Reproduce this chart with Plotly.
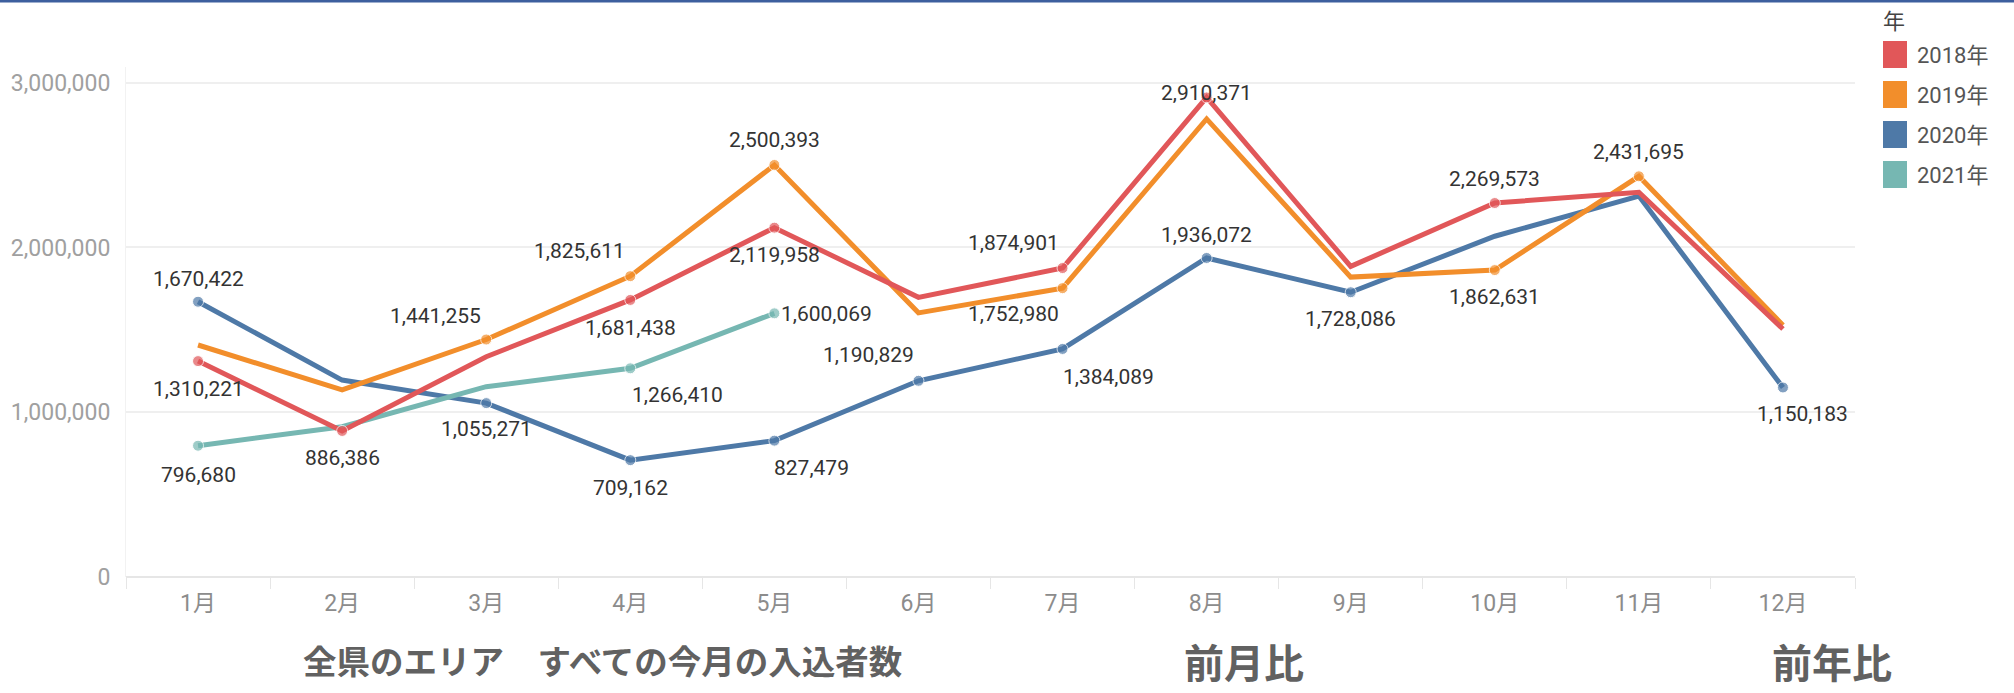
import plotly.graph_objects as go

# ---- data ----
months = ["1月", "2月", "3月", "4月", "5月", "6月", "7月", "8月", "9月", "10月", "11月", "12月"]
years = ["2018年", "2019年", "2020年", "2021年"]
v2018 = [1310221, 886386, 1337000, 1681438, 2119958, 1697000, 1874901, 2910371, 1885000, 2269573, 2335000, 1505000]
v2019 = [1408000, 1135000, 1441255, 1825611, 2500393, 1603000, 1752980, 2780000, 1820000, 1862631, 2431695, 1528000]
v2020 = [1670422, 1195000, 1055271, 709162, 827479, 1190829, 1384089, 1936072, 1728086, 2068000, 2312000, 1150183]
v2021 = [796680, 912000, 1155000, 1266410, 1600069]
series = [v2018, v2019, v2020, v2021]
colors = ["#e15759", "#f28e2b", "#4e79a7", "#76b7b2"]
y_ticks = [0, 1000000, 2000000, 3000000]

# labelled points: (series index, month index, horizontal anchor, vertical offset px (+ = below), x shift px)
labels = [
    (2, 0, "center", -23, 0), (0, 0, "center", 28, 0), (3, 0, "center", 29, 0),
    (0, 1, "center", 27, 0),
    (1, 2, "right", -24, -3), (2, 2, "center", 26, 0),
    (1, 3, "right", -25, -3), (0, 3, "center", 28, 0), (3, 3, "left", 27, 0), (2, 3, "center", 28, 0),
    (1, 4, "center", -25, 0), (0, 4, "center", 27, 0), (3, 4, "left", 1, 5), (2, 4, "left", 27, -2),
    (2, 5, "right", -26, -2),
    (0, 6, "right", -25, -2), (1, 6, "right", 26, -2), (2, 6, "left", 28, -2),
    (0, 7, "center", -4, 0), (2, 7, "center", -23, 0),
    (2, 8, "center", 27, 0),
    (0, 9, "center", -24, 0), (1, 9, "center", 27, 0),
    (1, 10, "center", -24, 0),
    (2, 11, "center", 27, 20),
]

W, H = 2014, 693
L, R, T, B = 126, 159, 67, 116
PW, PH = W - L - R, H - T - B


def px(x):
    return (x - L) / PW


def py(y):
    return (H - B - y) / PH


NUM_FONT = "Roboto, 'Noto Sans CJK JP', sans-serif"
CJK_FONT = "'Noto Sans CJK JP', sans-serif"

fig = go.Figure()

draw_order = [2, 3, 1, 0]
for si in draw_order:
    vals = series[si]
    sizes = [0] * len(vals)
    for s, m, *_ in labels:
        if s == si:
            sizes[m] = 11
    fig.add_trace(go.Scatter(
        x=months[:len(vals)], y=vals, name=years[si], mode="lines+markers",
        line=dict(color=colors[si], width=5),
        marker=dict(color=colors[si], size=sizes),
        showlegend=False, hoverinfo="skip",
    ))

annotations = []
for s, m, anchor, dy, dx in labels:
    v = series[s][m]
    annotations.append(dict(
        x=months[m], y=v, xref="x", yref="y", text=f"{v:,}", showarrow=False,
        xanchor=anchor, yanchor="middle", yshift=-dy, xshift=dx,
        font=dict(family=NUM_FONT, size=21, color="#333333"),
    ))

# legend (drawn manually to match the tall colour swatches)
shapes = []
annotations.append(dict(x=px(1881), y=py(19), xref="paper", yref="paper", text="年",
                        showarrow=False, xanchor="left", yanchor="middle",
                        font=dict(family=CJK_FONT, size=22, color="#444444")))
for i, name in enumerate(years):
    top = 41 + 40 * i
    shapes.append(dict(type="rect", xref="paper", yref="paper",
                       x0=px(1883), x1=px(1907), y0=py(top + 27), y1=py(top),
                       fillcolor=colors[i], line=dict(width=0)))
    annotations.append(dict(x=px(1915), y=py(top + 14), xref="paper", yref="paper", text=name,
                            showarrow=False, xanchor="left", yanchor="middle",
                            font=dict(family=NUM_FONT, size=22, color="#555555")))

# top border line
shapes.append(dict(type="line", xref="paper", yref="paper", x0=px(0), x1=px(W),
                   y0=py(1), y1=py(1), line=dict(color="#3d5f9e", width=3)))

# captions under the chart
for text, xc, yc, size in [("全県のエリア\u3000すべての今月の入込者数", 602, 659, 33.5),
                           ("前月比", 1244, 661, 40), ("前年比", 1832, 661, 40)]:
    annotations.append(dict(x=px(xc), y=py(yc), xref="paper", yref="paper", text=f"<b>{text}</b>",
                            showarrow=False, xanchor="center", yanchor="middle",
                            font=dict(family=CJK_FONT, size=size, color="#616161")))

fig.update_layout(
    width=W, height=H,
    margin=dict(l=L, r=R, t=T, b=B, pad=0),
    paper_bgcolor="white", plot_bgcolor="white",
    showlegend=False,
    annotations=annotations, shapes=shapes,
    hovermode=False,
)
fig.update_xaxes(
    type="category", categoryorder="array", categoryarray=months, range=[-0.5, 11.5],
    showgrid=False, zeroline=False, showline=False,
    ticks="outside", tickson="boundaries", ticklen=11, tickcolor="#e6e6e6", tickwidth=1,
    tickfont=dict(family=NUM_FONT, size=23, color="#8c8c8c"), ticklabelstandoff=10,
)
fig.update_yaxes(
    range=[0, 3095000], tickvals=y_ticks, ticktext=[f"{t:,}" for t in y_ticks],
    showgrid=True, gridcolor="#efefef", gridwidth=2,
    zeroline=True, zerolinecolor="#e6e6e6", zerolinewidth=2,
    showline=True, linecolor="#f2f2f2", linewidth=1,
    tickfont=dict(family=NUM_FONT, size=23, color="#a0a0a0"), ticklabelstandoff=10,
)

fig.write_html("out.html", config={"displayModeBar": False},
               post_script="document.body.style.margin='0px';document.body.style.overflow='hidden';")
